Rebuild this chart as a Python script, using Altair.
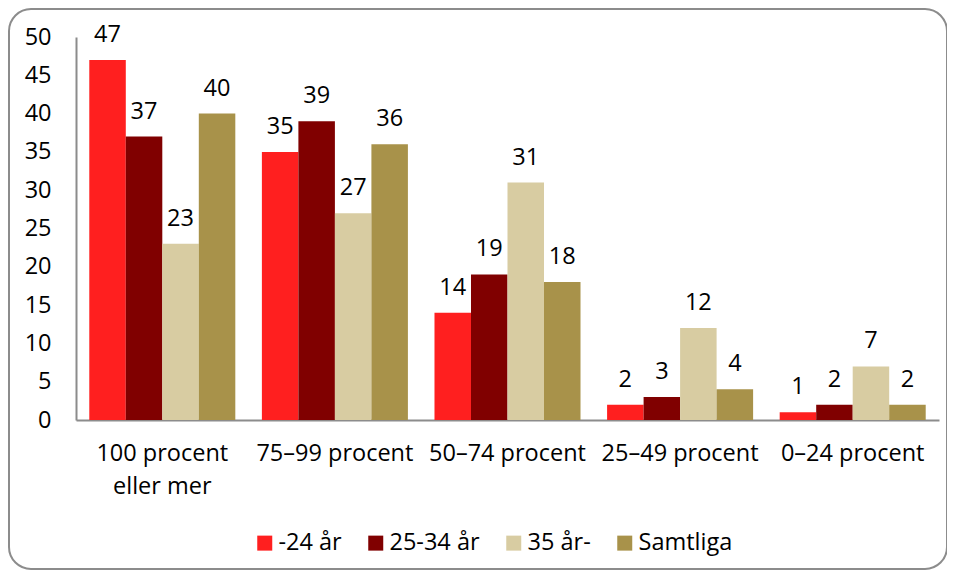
import altair as alt
import pandas as pd

categories = ["100 procent eller mer", "75–99 procent", "50–74 procent", "25–49 procent", "0–24 procent"]
series = ["-24 år", "25-34 år", "35 år-", "Samtliga"]
colors = ["#FF1F1F", "#800000", "#D8CCA2", "#A8924A"]
v_24 = [47, 35, 14, 2, 1]
v_25_34 = [37, 39, 19, 3, 2]
v_35 = [23, 27, 31, 12, 7]
v_all = [40, 36, 18, 4, 2]
y_ticks = [0, 5, 10, 15, 20, 25, 30, 35, 40, 45, 50]

rows = []
for s, vals in zip(series, [v_24, v_25_34, v_35, v_all]):
    for c, v in zip(categories, vals):
        rows.append({"kategori": c, "grupp": s, "andel": v})
df = pd.DataFrame(rows)

FONT = "Open Sans"
FS = 23.5

x_enc = alt.X(
    "kategori:N", sort=categories, title=None,
    scale=alt.Scale(paddingInner=0.154, paddingOuter=0.077),
    axis=alt.Axis(
        labelAngle=0, labelFont=FONT, labelFontSize=FS, labelColor="#000000",
        labelPadding=21, labelLineHeight=33, ticks=False,
        domainColor="#8c8c8c", domainWidth=2,
        labelExpr="datum.value == '100 procent eller mer' ? ['100 procent', 'eller mer'] : datum.label",
    ),
)
y_enc = alt.Y(
    "andel:Q", title=None,
    scale=alt.Scale(domain=[0, 50]),
    axis=alt.Axis(
        values=y_ticks, grid=False, ticks=False, labelOverlap=False,
        labelFont=FONT, labelFontSize=FS, labelColor="#000000", labelPadding=25,
        domainColor="#8c8c8c", domainWidth=2,
    ),
)
xoff = alt.XOffset("grupp:N", sort=series, scale=alt.Scale(paddingInner=0, paddingOuter=0))

base = alt.Chart(df)

bars = base.mark_bar().encode(
    x=x_enc, y=y_enc, xOffset=xoff,
    color=alt.Color(
        "grupp:N", sort=series, title=None,
        scale=alt.Scale(domain=series, range=colors),
        legend=alt.Legend(
            orient="none", direction="horizontal", legendX=177, legendY=494,
            symbolType="square", symbolSize=225, symbolStrokeWidth=0,
            labelFont=FONT, labelFontSize=FS, labelColor="#000000",
            labelOffset=2, columnPadding=22,
        ),
    ),
)

labels = base.mark_text(
    font=FONT, fontSize=FS, color="#000000", baseline="alphabetic", dy=-18
).encode(
    x=x_enc,
    y=y_enc,
    xOffset=xoff,
    text=alt.Text("andel:Q"),
)

frame = alt.Chart(pd.DataFrame({"f": [0]})).mark_rect(
    fill="transparent", stroke="#8c8c8c", strokeWidth=2, cornerRadius=22
).encode(
    x=alt.value(-67), x2=alt.value(871), y=alt.value(-28), y2=alt.value(532)
)

chart = alt.layer(frame, bars, labels).properties(
    width=863, height=383,
    autosize=alt.AutoSizeParams(type="none"),
    padding={"left": 68, "top": 29, "right": 8, "bottom": 151},
).configure_view(stroke=None)

chart.save("out.html", embed_options={"renderer": "svg", "actions": False})
